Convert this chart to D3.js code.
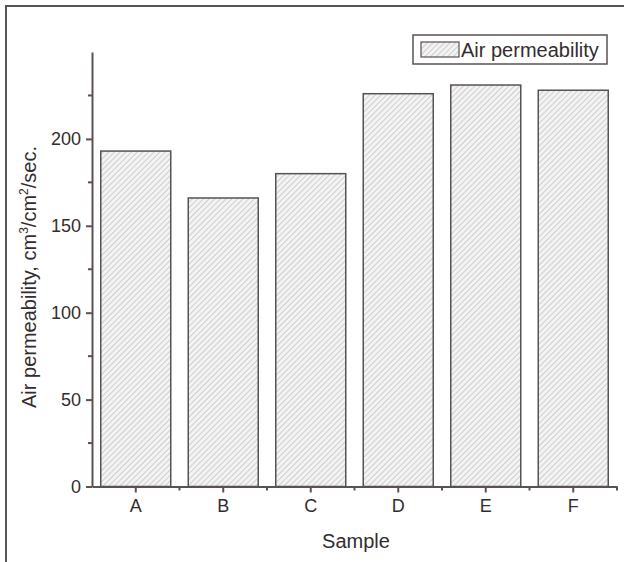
<!DOCTYPE html>
<html lang="en">
<head>
    <meta charset="UTF-8">
    <title>Air permeability by sample</title>
    <style>
        html, body { margin: 0; padding: 0; background: #fff; }
        svg { display: block; }
        text { font-family: "Liberation Sans", Arial, sans-serif; fill: #332d2d; }
        .axis text { font-size: 18px; }
    </style>
    <script src="https://d3js.org/d3.v7.min.js"></script>
</head>
<body>
    <svg width="624" height="562"></svg>
    <script>
        var samples = ["A", "B", "C", "D", "E", "F"];
        var permeability = [193, 166, 180, 226, 231, 228];
        var yTicks = [0, 50, 100, 150, 200];
        var yMinor = [25, 75, 125, 175, 225];

        var svg = d3.select("svg"),
            ink = "#5a5252";

        var x = d3.scaleBand().domain(samples).range([92, 617]).paddingInner(0.2).paddingOuter(0.1);
        var y = d3.scaleLinear().domain([0, 250]).range([486.5, 52]);

        // hatch pattern
        var pat = svg.append("defs").append("pattern")
            .attr("id", "hatch")
            .attr("patternUnits", "userSpaceOnUse")
            .attr("width", 4).attr("height", 4)
            .attr("patternTransform", "rotate(-45)");
        pat.append("rect").attr("width", 4).attr("height", 4).attr("fill", "#f3f3f3");
        pat.append("line").attr("x1", 0).attr("y1", 0).attr("x2", 4).attr("y2", 0)
            .attr("stroke", "#c2c2c2").attr("stroke-width", 1.5);

        // outer frame (top + left)
        svg.append("path").attr("d", "M6,562V6H624")
            .attr("fill", "none").attr("stroke", "#555").attr("stroke-width", 2);

        // bars
        svg.append("g").selectAll("rect")
            .data(samples)
            .enter().append("rect")
            .attr("x", (d, i) => x(d))
            .attr("y", (d, i) => y(permeability[i]))
            .attr("width", x.bandwidth())
            .attr("height", (d, i) => y(0) - y(permeability[i]))
            .attr("fill", "url(#hatch)")
            .attr("stroke", ink)
            .attr("stroke-width", 1.5);

        // y axis
        var yAxis = svg.append("g").attr("class", "axis").attr("transform", "translate(92,0)")
            .call(d3.axisLeft(y).tickValues(yTicks).tickSize(6).tickPadding(5).tickSizeOuter(0))
            .attr("font-size", 18);
        yAxis.append("g").selectAll("line").data(yMinor).enter().append("line")
            .attr("x1", -4).attr("x2", 0)
            .attr("y1", d => y(d)).attr("y2", d => y(d));

        // x axis
        var xAxis = svg.append("g").attr("class", "axis").attr("transform", "translate(0,486.5)")
            .call(d3.axisBottom(x).tickSize(6).tickPadding(7).tickSizeOuter(0))
            .attr("font-size", 18);
        var step = x.step();
        var minorX = samples.map((d, i) => 92 + step * (i + 1));
        xAxis.append("g").selectAll("line").data(minorX).enter().append("line")
            .attr("x1", d => d).attr("x2", d => d)
            .attr("y1", 0).attr("y2", 4);

        svg.selectAll(".axis text").attr("fill", "#332d2d");
        svg.selectAll(".domain, .tick line, g g line")
            .attr("stroke", ink).attr("stroke-width", 2);

        // axis titles
        svg.append("text")
            .attr("x", 356).attr("y", 548)
            .attr("text-anchor", "middle")
            .style("font-size", "20px")
            .text("Sample");

        var yt = svg.append("text")
            .attr("transform", "translate(36,277) rotate(-90)")
            .attr("text-anchor", "middle")
            .style("font-size", "20px");
        yt.append("tspan").text("Air permeability, cm");
        yt.append("tspan").attr("dy", -8).style("font-size", "12px").text("3");
        yt.append("tspan").attr("dy", 8).text("/cm");
        yt.append("tspan").attr("dy", -8).style("font-size", "12px").text("2");
        yt.append("tspan").attr("dy", 8).text("/sec.");

        // legend
        var lg = svg.append("g");
        lg.append("rect").attr("x", 413).attr("y", 35).attr("width", 194).attr("height", 29)
            .attr("fill", "#fff").attr("stroke", ink).attr("stroke-width", 1.5);
        lg.append("rect").attr("x", 421).attr("y", 42).attr("width", 38).attr("height", 15)
            .attr("fill", "url(#hatch)").attr("stroke", ink).attr("stroke-width", 1.2);
        lg.append("text").attr("x", 461).attr("y", 57)
            .style("font-size", "20px")
            .text("Air permeability");
    </script>
</body>
</html>
